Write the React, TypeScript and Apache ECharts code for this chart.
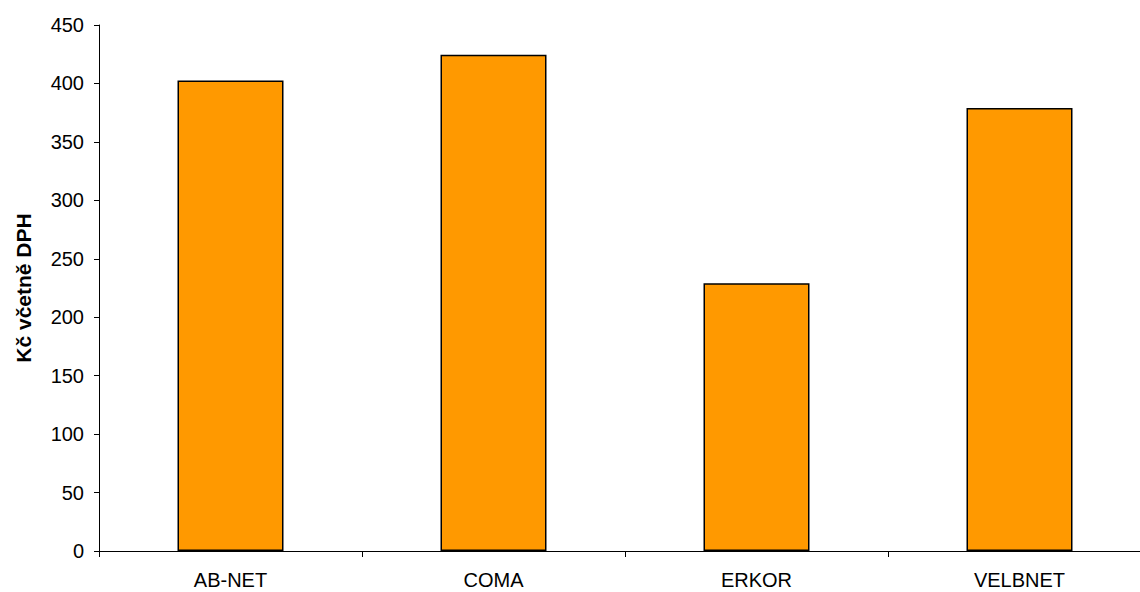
import React, { useEffect, useRef } from "react";
import * as echarts from "echarts";

const categories = ["AB-NET", "COMA", "ERKOR", "VELBNET"];
const values = [402.5, 424.5, 229, 379];
const yTicks = { min: 0, max: 450, interval: 50 };
const yAxisName = "Kč včetně DPH";

export default function App() {
  const ref = useRef<HTMLDivElement>(null);
  useEffect(() => {
    const chart = echarts.init(ref.current!, undefined, { renderer: "svg" });
    const font = "'Liberation Sans', Arial, sans-serif";
    chart.setOption({
      animation: false,
      grid: { left: 99, right: -11, top: 25, bottom: 41, containLabel: false, outerBoundsMode: "none" },
      xAxis: {
        type: "category",
        data: categories,
        axisLine: { lineStyle: { color: "#000", width: 1 } },
        axisTick: { show: true, length: 6, inside: false, alignWithLabel: false, lineStyle: { color: "#000" } },
        axisLabel: { color: "#000", fontSize: 20, fontFamily: font, margin: 19 },
        splitLine: { show: false },
      },
      yAxis: {
        type: "value",
        min: yTicks.min,
        max: yTicks.max,
        interval: yTicks.interval,
        name: yAxisName,
        nameLocation: "middle",
        nameGap: 65,
        nameTextStyle: { color: "#000", fontSize: 21, fontWeight: "bold", fontFamily: font },
        axisLine: { show: true, lineStyle: { color: "#000", width: 1 } },
        axisTick: { show: true, length: 5, lineStyle: { color: "#000" } },
        axisLabel: { color: "#000", fontSize: 20, fontFamily: font, margin: 15 },
        splitLine: { show: false },
      },
      series: [
        {
          type: "bar",
          data: values,
          barWidth: 106,
          itemStyle: { color: "#FF9900", borderColor: "#000", borderWidth: 1.5 },
        },
      ],
    });
    return () => chart.dispose();
  }, []);
  return <div ref={ref} style={{ width: 1140, height: 592, position: "absolute", left: 0, top: 0 }} />;
}
